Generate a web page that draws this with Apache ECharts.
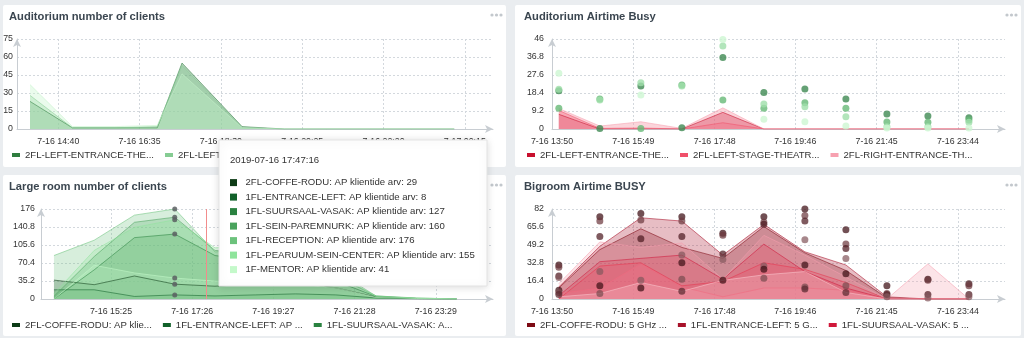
<!DOCTYPE html>
<html>
<head>
<meta charset="utf-8">
<title>Wi-Fi dashboard</title>
<script src="https://cdn.jsdelivr.net/npm/echarts@6.0.0/dist/echarts.min.js"></script>
<style>
  html, body { margin: 0; padding: 0; background: #eaedf0; }
  #board { width: 1024px; height: 338px; }
</style>
</head>
<body>
<div id="board"></div>
<script>
// ---- time stamps ----
const hourStamps = ['2019-07-16 14:00', '2019-07-16 15:00', '2019-07-16 16:00', '2019-07-16 17:00',
  '2019-07-16 18:00', '2019-07-16 19:00', '2019-07-16 20:00', '2019-07-16 21:00',
  '2019-07-16 22:00', '2019-07-16 23:00', '2019-07-17 00:00'];
const auditoriumStamps = ['2019-07-16 14:00', '2019-07-16 15:00', '2019-07-16 16:00', '2019-07-16 17:00',
  '2019-07-16 17:35', '2019-07-16 19:00', '2019-07-16 20:00', '2019-07-16 21:00',
  '2019-07-16 22:00', '2019-07-16 23:00', '2019-07-17 00:00'];

// ---- axis ticks ----
const auditoriumTicks = ['2019-07-16 14:40', '2019-07-16 16:35', '2019-07-16 18:30', '2019-07-16 20:25', '2019-07-16 22:20', '2019-07-17 00:15'];
const airtimeTicks = ['2019-07-16 13:50', '2019-07-16 15:49', '2019-07-16 17:48', '2019-07-16 19:46', '2019-07-16 21:45', '2019-07-16 23:44'];
const largeRoomTicks = ['2019-07-16 15:25', '2019-07-16 17:26', '2019-07-16 19:27', '2019-07-16 21:28', '2019-07-16 23:29'];
const auditoriumRange = ['2019-07-16 13:41:36', '2019-07-17 00:54:54'];
const largeRoomRange = ['2019-07-16 13:40:42', '2019-07-17 00:54:18'];
const airtimeRange = ['2019-07-16 13:50:00', '2019-07-17 00:52:48'];
const clientTicksAud = [0, 75, 15];
const busyTicksAud = [0, 46, 9.2];
const clientTicksLarge = [0, 176, 35.2];
const busyTicksBig = [0, 82, 16.4];

// ---- Auditorium number of clients ----
const audClientNames = ['2FL-LEFT-ENTRANCE-THEATRE: AP klientide arv', '2FL-LEFT-STAGE-THEATRE: AP klientide arv', '2FL-RIGHT-ENTRANCE-THEATRE: AP klientide arv'];
const audClientColors = ['#2f7d3f', '#86cc93', '#c5f3ca'];
const audLeftEntrance = [23, 1, 1, 1, 55, 2, 0, 0, 0, 0, 0];
const audLeftStage = [28, 1, 1, 2, 53, 1, 0, 0, 0, 0, 0];
const audRightEntrance = [37, 2, 2, 3, 46, 1, 0, 0, 0, 0, 0];

// ---- Auditorium airtime busy ----
const audBusyNames = ['2FL-LEFT-ENTRANCE-THEATRE: 5 GHz airtime busy', '2FL-LEFT-STAGE-THEATRE: 5 GHz airtime busy', '2FL-RIGHT-ENTRANCE-THEATRE: 5 GHz airtime busy'];
const audBusyColors = ['#c8102e', '#f0506a', '#f7a1b0'];
const audBusyLeftEntrance = [7.5, 0, 0, 0, 8.5, 0, 0, 0, 0, 0, 0];
const audBusyLeftStage = [9.5, 0.3, 0.5, 0, 3.2, 0, 0, 0, 0, 0, 0];
const audBusyRightEntrance = [10.5, 1.5, 3.7, 0.3, 10.8, 0, 0, 0, 0, 0, 0];
const audBusy24Names = ['2FL-LEFT-ENTRANCE-THEATRE: 2.4 GHz airtime busy', '2FL-LEFT-STAGE-THEATRE: 2.4 GHz airtime busy', '2FL-RIGHT-ENTRANCE-THEATRE: 2.4 GHz airtime busy', '2FL-CENTER-THEATRE: 2.4 GHz airtime busy'];
const audBusy24Colors = ['#3f8a52', '#66b977', '#9fdfaa', '#cdf6d2'];
const audBusy24A = [19.6, 0.3, 22, 0.7, 36.6, 18.6, 20.4, 15.3, 7.7, 6.6, 5.8];
const audBusy24B = [10.6, 15.3, 0.3, 22.5, 14.8, 10.6, 13.4, 10.6, 3.6, 3.4, 4.6];
const audBusy24C = [20.3, 14.8, 23.7, 22, 42.4, 12.8, 11.4, 6.3, 1.2, 1.2, 3.4];
const audBusy24D = [28.5, null, 17.4, null, 45.8, 5, 3.7, 1.5, 0.5, 0.5, 0.5];

// ---- Large room number of clients ----
const largeNames = ['2FL-COFFE-RODU: AP klientide arv', '1FL-ENTRANCE-LEFT: AP klientide arv', '1FL-SUURSAAL-VASAK: AP klientide arv',
  '1FL-SEIN-PAREMNURK: AP klientide arv', '1FL-RECEPTION: AP klientide arv', '1FL-PEARUUM-SEIN-CENTER: AP klientide arv', '1F-MENTOR: AP klientide arv'];
const largeColors = ['#0d3b16', '#11612a', '#2a8240', '#4aa35d', '#6cc27c', '#8fe49c', '#c4f9ca'];
const largeCoffe = [37, 28, 45, 29, 25, 30, 32, 22, 4, 1, 0];
const largeEntrance = [18, 18, 5, 8, 6, 8, 10, 8, 2, 0, 0];
const largeSuursaal = [0, 57, 120, 127, 85, 75, 60, 35, 5, 1, 0];
const largeSein = [5, 83, 150, 160, 95, 90, 70, 45, 6, 2, 0];
const largeReception = [85, 115, 164, 176, 92, 100, 85, 55, 6, 1, 0];
const largePearuum = [10, 95, 140, 155, 100, 105, 80, 50, 5, 2, 0];
const largeMentor = [0, 66, 51, 41, 35, 32, 30, 22, 3, 1, 0];
const hoverIndex = 3;
const hoverTime = '2019-07-16 17:47:16';

// ---- Bigroom airtime busy ----
const bigNames = ['2FL-COFFE-RODU: 5 GHz airtime busy', '1FL-ENTRANCE-LEFT: 5 GHz airtime busy', '1FL-SUURSAAL-VASAK: 5 GHz airtime busy',
  '1FL-SEIN-PAREMNURK: 5 GHz airtime busy', '1FL-RECEPTION: 5 GHz airtime busy', '1FL-PEARUUM-SEIN-CENTER: 5 GHz airtime busy', '1F-MENTOR: 5 GHz airtime busy'];
const bigColors = ['#7d0a14', '#a8122a', '#d0183a', '#e8344f', '#f06a80', '#f59fae', '#fbc8d0'];
const bigCoffe = [10, 45, 64, 47, 37, 66, 42, 26, 1, 0, 0];
const bigEntrance = [11, 48, 74, 71, 40, 68, 43, 31, 2, 0, 0];
const bigSuursaal = [3, 34, 37, 40, 18, 50, 25, 10, 0, 0, 0];
const bigSein = [0, 30, 33, 12, 16, 33, 27, 15, 0, 0, 0];
const bigReception = [5, 10, 32, 11, 2, 10, 10, 8, 0, 0, 0];
const bigPearuum = [14, 52, 47, 51, 18, 58, 40, 20, 0, 32, 0];
const bigMentor = [2, 5, 15, 7, 17, 22, 25, 6, 0, 0, 0];
const big24Names = ['2FL-COFFE-RODU: 2.4 GHz airtime busy', '1FL-ENTRANCE-LEFT: 2.4 GHz airtime busy', '1FL-SUURSAAL-VASAK: 2.4 GHz airtime busy',
  '1FL-SEIN-PAREMNURK: 2.4 GHz airtime busy', '1FL-RECEPTION: 2.4 GHz airtime busy', '1FL-PEARUUM-SEIN-CENTER: 2.4 GHz airtime busy', '1F-MENTOR: 2.4 GHz airtime busy'];
const big24Colors = ['#3b0c12', '#6e3a40', '#4e1a21', '#85595e', '#3f1016', '#7a4c51', '#5a2a30'];
const big24A = [31, 75, 78, 75, 60, 75, 82, 63, 12, 18, 14];
const big24B = [29, 71, 72, 71, 58, 70, 76, 50, 5, 17, 12];
const big24C = [21, 57, 55, 57, 41, 68, 71, 46, 4, 4, 4];
const big24D = [19.5, 25, 17, 40, 36, 30, 54, 37, 2, 1, 2];
const big24E = [8, 12, 10, 33, 17, 27, 31, 23, null, null, null];
const big24F = [6, 5, null, 18, null, 19, 11, 12, null, null, null];
const big24G = [4, null, null, 7, null, null, 9, 6, null, null, null];

// ---- helpers ----
// minutes since 2019-07-16 00:00
function toMinutes(stamp) {
  const [d, t] = stamp.split(' ');
  const day = Number(d.slice(8, 10));
  const [h, m, s] = t.split(':').map(Number);
  return (day - 16) * 1440 + h * 60 + m + (s || 0) / 60;
}
function fmtMinutes(v) {
  const total = Math.round(v);
  const day = 16 + Math.floor(total / 1440);
  const rest = total % 1440;
  const hh = Math.floor(rest / 60), mm = rest % 60;
  return '7-' + day + ' ' + String(hh).padStart(2, '0') + ':' + String(mm).padStart(2, '0');
}
function pairs(stamps, values) {
  const out = [];
  values.forEach((v, i) => { if (v !== null) out.push([toMinutes(stamps[i]), v]); });
  return out;
}

const FONT = '"Liberation Sans", Arial, Helvetica, sans-serif';
const AXIS_COLOR = '#c8cdd2';
const GRID_COLOR = '#d3d8dd';

function xAxisFor(i, range, ticks) {
  const vals = ticks.map(toMinutes);
  return {
    type: 'value', gridIndex: i,
    min: toMinutes(range[0]), max: toMinutes(range[1]),
    axisLine: { show: true, lineStyle: { color: AXIS_COLOR, width: 1 }, symbol: ['none', 'arrow'], symbolSize: [6, 8] },
    axisTick: { show: false, customValues: vals },
    axisLabel: { customValues: vals, formatter: fmtMinutes, fontSize: 8.8, color: '#333', margin: 8, hideOverlap: false, showMinLabel: true, showMaxLabel: true },
    splitLine: { show: true, lineStyle: { color: GRID_COLOR, type: [2, 2] } }
  };
}
function yAxisFor(i, spec, margin) {
  return {
    type: 'value', gridIndex: i, min: spec[0], max: spec[1], interval: spec[2],
    axisLine: { show: true, lineStyle: { color: AXIS_COLOR, width: 1 }, symbol: ['none', 'arrow'], symbolSize: [6, 8] },
    axisTick: { show: false },
    axisLabel: { fontSize: 8.8, color: '#333', margin: margin },
    splitLine: { show: true, lineStyle: { color: GRID_COLOR, type: [2, 2] } }
  };
}
function areaSeries(i, name, color, stamps, values, areaOpacity, extra) {
  return Object.assign({
    type: 'line', name: name, xAxisIndex: i, yAxisIndex: i,
    data: pairs(stamps, values), showSymbol: false, symbol: 'none',
    lineStyle: { width: 1, color: color, opacity: 0.55 },
    itemStyle: { color: color },
    areaStyle: { color: color, opacity: areaOpacity },
    silent: true
  }, extra || {});
}
function dotSeries(i, name, color, stamps, values, opacity) {
  return {
    type: 'scatter', name: name, xAxisIndex: i, yAxisIndex: i,
    data: pairs(stamps, values), symbolSize: 7,
    itemStyle: { color: color, opacity: opacity }, silent: true, z: 3
  };
}
function legendFor(names, left, top) {
  return {
    data: names, left: left, top: top, padding: 0,
    icon: 'rect', itemWidth: 8, itemHeight: 4, itemGap: 11, selectedMode: false,
    textStyle: { fontSize: 9.6, color: '#333', width: 132.5, overflow: 'truncate', ellipsis: '...' }
  };
}

// ---- series ----
const series = [];
[audLeftEntrance, audLeftStage, audRightEntrance].forEach((vals, k) =>
  series.push(areaSeries(0, audClientNames[k], audClientColors[k], auditoriumStamps, vals, 0.36)));

[audBusyLeftEntrance, audBusyLeftStage, audBusyRightEntrance].forEach((vals, k) =>
  series.push(areaSeries(1, audBusyNames[k], audBusyColors[k], hourStamps, vals, 0.45)));
[audBusy24A, audBusy24B, audBusy24C, audBusy24D].forEach((vals, k) =>
  series.push(dotSeries(1, audBusy24Names[k], audBusy24Colors[k], hourStamps, vals, 0.8)));

const largeValues = [largeCoffe, largeEntrance, largeSuursaal, largeSein, largeReception, largePearuum, largeMentor];
largeValues.forEach((vals, k) => {
  const s = areaSeries(2, largeNames[k], largeColors[k], hourStamps, vals, 0.27);
  // mark the hovered sample with a small dot
  s.symbol = 'circle';
  s.showSymbol = true;
  s.showAllSymbol = true;
  s.symbolSize = (v, p) => (p.dataIndex === hoverIndex ? 5 : 0);
  s.data = s.data.map((d, idx) => idx === hoverIndex ? { value: d, itemStyle: { color: '#5b5f62', opacity: 0.85 } } : d);
  if (k === 0) {
    s.markLine = {
      silent: true, symbol: 'none', animation: false,
      label: { show: false },
      lineStyle: { color: '#f28c8c', width: 1, type: 'solid' },
      data: [{ xAxis: toMinutes(hoverTime) }]
    };
  }
  series.push(s);
});

[bigCoffe, bigEntrance, bigSuursaal, bigSein, bigReception, bigPearuum, bigMentor].forEach((vals, k) =>
  series.push(areaSeries(3, bigNames[k], bigColors[k], hourStamps, vals, 0.28)));
[big24A, big24B, big24C, big24D, big24E, big24F, big24G].forEach((vals, k) =>
  series.push(dotSeries(3, big24Names[k], big24Colors[k], hourStamps, vals, 0.72)));

// ---- panels, menu dots and the hover box ----
const panels = [[3, 5, 503, 162], [515, 5, 506, 162], [3, 175, 503, 161], [515, 175, 506, 161]];
const graphics = [];
panels.forEach(p => {
  graphics.push({ type: 'rect', z: -10, silent: true, shape: { x: p[0], y: p[1], width: p[2], height: p[3], r: 2 }, style: { fill: '#ffffff' } });
  [0, 1, 2].forEach(j => graphics.push({
    type: 'circle', z: -5, silent: true,
    shape: { cx: p[0] + p[2] - 14 + j * 4.5, cy: p[1] + 10, r: 1.6 }, style: { fill: '#c3c8cd' }
  }));
});

// hover box: drawn on its own layer above every series and legend
const TIP_X = 219, TIP_Y = 140;
const tipFont = '9.6px ' + FONT;
const tipTop = { zlevel: 2, z: 100, silent: true };
graphics.push(Object.assign({
  type: 'rect', shape: { x: TIP_X, y: TIP_Y, width: 268, height: 146 },
  style: { fill: '#fff', stroke: '#e3e3e3', lineWidth: 1, shadowBlur: 8, shadowColor: 'rgba(0,0,0,0.15)', shadowOffsetY: 1 }
}, tipTop));
graphics.push(Object.assign({
  type: 'text', x: TIP_X + 11, y: TIP_Y + 20,
  style: { text: hoverTime, font: tipFont, fill: '#333', verticalAlign: 'middle' }
}, tipTop, { z: 101 }));
largeValues.forEach((vals, k) => {
  const cy = TIP_Y + 42.6 + k * 14.5;
  graphics.push(Object.assign({
    type: 'rect', shape: { x: TIP_X + 11, y: cy - 3.5, width: 7, height: 7 }, style: { fill: largeColors[k] }
  }, tipTop, { z: 101 }));
  graphics.push(Object.assign({
    type: 'text', x: TIP_X + 26.5, y: cy,
    style: { text: largeNames[k] + ': ' + vals[hoverIndex], font: tipFont, fill: '#333', verticalAlign: 'middle' }
  }, tipTop, { z: 101 }));
});

const titleStyle = { fontSize: 11.2, fontWeight: 'bold', color: '#3b4650', fontFamily: FONT };

const option = {
  animation: false,
  backgroundColor: '#eaedf0',
  textStyle: { fontFamily: FONT },
  title: [
    { text: 'Auditorium number of clients', left: 9, top: 11, padding: 0, textStyle: titleStyle },
    { text: 'Auditorium Airtime Busy', left: 524, top: 11, padding: 0, textStyle: titleStyle },
    { text: 'Large room number of clients', left: 9, top: 181, padding: 0, textStyle: titleStyle },
    { text: 'Bigroom Airtime BUSY', left: 524, top: 181, padding: 0, textStyle: titleStyle }
  ],
  legend: [
    legendFor(audClientNames, 12, 150),
    legendFor(audBusyNames, 527, 150),
    legendFor(largeNames.slice(0, 3), 12, 320),
    legendFor(bigNames.slice(0, 3), 527, 320)
  ],
  grid: [
    { left: 17, top: 39, width: 476, height: 90 },
    { left: 552, top: 39, width: 453, height: 90 },
    { left: 41, top: 209, width: 452, height: 90 },
    { left: 552, top: 209, width: 453, height: 90 }
  ],
  xAxis: [
    xAxisFor(0, auditoriumRange, auditoriumTicks),
    xAxisFor(1, airtimeRange, airtimeTicks),
    xAxisFor(2, largeRoomRange, largeRoomTicks),
    xAxisFor(3, airtimeRange, airtimeTicks)
  ],
  yAxis: [
    yAxisFor(0, clientTicksAud, 4),
    yAxisFor(1, busyTicksAud, 8),
    yAxisFor(2, clientTicksLarge, 6),
    yAxisFor(3, busyTicksBig, 8)
  ],
  graphic: { elements: graphics },
  series: series
};

const chart = echarts.init(document.getElementById('board'), null, { renderer: 'canvas' });
chart.setOption(option);
</script>
</body>
</html>
